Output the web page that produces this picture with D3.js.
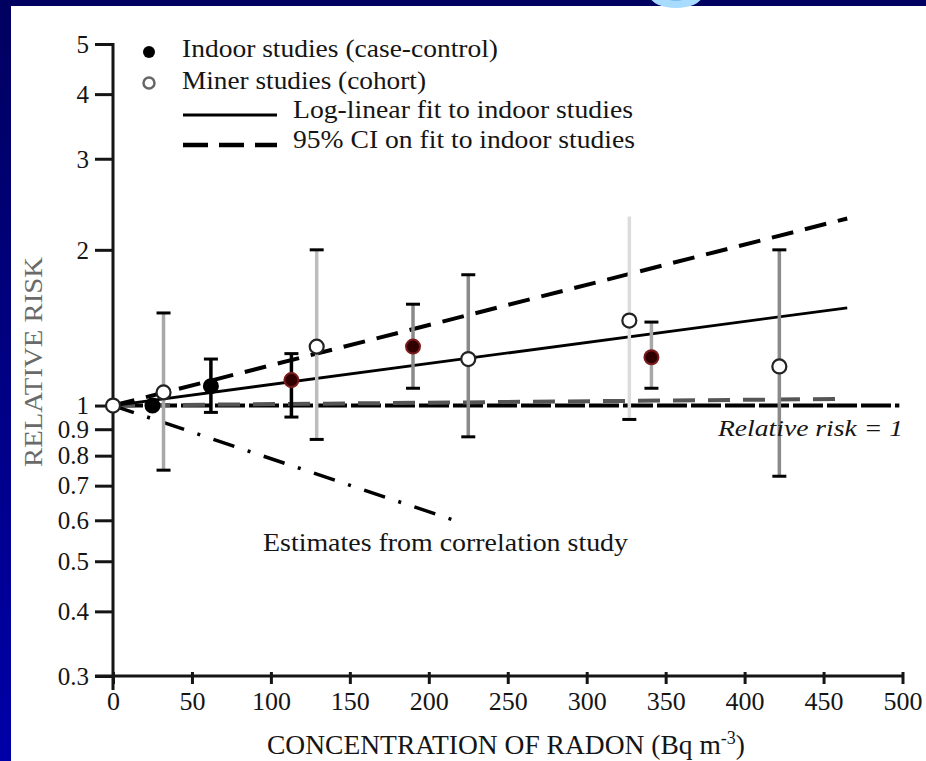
<!DOCTYPE html>
<html>
<head>
<meta charset="utf-8">
<script src="https://cdn.jsdelivr.net/npm/d3@7"></script>
<style>
  html, body { margin: 0; padding: 0; background: #fff; }
  svg { display: block; }
</style>
</head>
<body>
<svg id="chart"></svg>
<script>
// Relative risk of lung cancer vs. radon concentration
//   Values; y is a log axis.

// Indoor (case-control) studies
var indoorConc = [25, 62, 113, 190, 341];
var indoorRR   = [1.00, 1.09, 1.12, 1.30, 1.24];
var indoorLow  = [null, 0.97, 0.95, 1.08, 1.08];
var indoorHigh = [null, 1.23, 1.26, 1.57, 1.45];

// Miner (cohort) studies
var minerConc = [0, 32, 129, 225, 327, 422];
var minerRR   = [1.00, 1.06, 1.30, 1.23, 1.46, 1.19];
var minerLow  = [null, 0.75, 0.86, 0.87, 0.94, 0.73];
var minerHigh = [null, 1.51, 2.00, 1.79, 2.32, 2.00];

// Fitted lines (end points)
var fitConc     = [0, 465];
var fitRR       = [1.00, 1.545];
var ciUpperRR   = [1.00, 2.30];
var ciLowerRR   = [1.00, 1.03];
var corrConc    = [0, 216];
var corrRR      = [1.00, 0.60];
var refConc     = [0, 498];
var refRR       = [1, 1];

// Axis ticks
var xTicks = [0, 50, 100, 150, 200, 250, 300, 350, 400, 450, 500];
var yTicks = [0.3, 0.4, 0.5, 0.6, 0.7, 0.8, 0.9, 1, 2, 3, 4, 5];
var yTickLabels = ["0.3", "0.4", "0.5", "0.6", "0.7", "0.8", "0.9", "1", "2", "3", "4", "5"];

var legendLabels = ["Indoor studies (case-control)", "Miner studies (cohort)",
                    "Log-linear fit to indoor studies", "95% CI on fit to indoor studies"];

var serif = "'Liberation Serif', 'Times New Roman', serif";
var ink = "#151515";

var W = 926, H = 761;
var svg = d3.select("#chart").attr("width", W).attr("height", H);

// ---- slide background (blue frame, white page) ----
var defs = svg.append("defs");
var grad = defs.append("linearGradient").attr("id", "side")
    .attr("x1", 0).attr("y1", 0).attr("x2", 0).attr("y2", 1);
grad.append("stop").attr("offset", "0%").attr("stop-color", "#000060");
grad.append("stop").attr("offset", "100%").attr("stop-color", "#0000a8");

svg.append("rect").attr("width", W).attr("height", H).attr("fill", "#fff");
svg.append("rect").attr("x", 0).attr("y", 0).attr("width", 11).attr("height", H).attr("fill", "url(#side)");
svg.append("rect").attr("x", 0).attr("y", 0).attr("width", W).attr("height", 6).attr("fill", "#000060");
// bit of a title letter peeking in at the top
svg.append("ellipse").attr("cx", 676).attr("cy", -4).attr("rx", 26).attr("ry", 12).attr("fill", "#a8dcff");
svg.append("ellipse").attr("cx", 676).attr("cy", -6).attr("rx", 13).attr("ry", 7).attr("fill", "#7fb8ee");

// ---- scales ----
var x = d3.scaleLinear().domain([0, 500]).range([113, 902.5]);
var y = d3.scaleLog().domain([0.3, 5]).range([676, 44]);

var g = svg.append("g");

// x axis
var xAxis = g.append("g")
    .attr("transform", "translate(0,676)")
    .call(d3.axisBottom(x).tickValues(xTicks).tickSize(8).tickFormat(d3.format("d")));
xAxis.select(".domain").remove();
xAxis.selectAll(".tick line").attr("y1", -4).attr("y2", 8).attr("stroke", ink).attr("stroke-width", 3);
xAxis.selectAll(".tick text")
    .attr("y", 34).attr("dy", null)
    .attr("fill", ink).attr("font-family", serif).attr("font-size", 26);

// y axis
var yAxis = g.append("g")
    .attr("transform", "translate(113,0)")
    .call(d3.axisLeft(y).tickValues(yTicks).tickSize(18).tickPadding(6)
        .tickFormat(function(d, i) { return yTickLabels[i]; }));
yAxis.select(".domain").remove();
yAxis.selectAll(".tick line").attr("stroke", ink).attr("stroke-width", 3);
yAxis.selectAll(".tick text")
    .attr("dy", "0.33em")
    .attr("fill", ink).attr("font-family", serif).attr("font-size", 25);

// axis lines drawn by hand so they can overhang
g.append("line").attr("x1", 95).attr("x2", x(500) + 1).attr("y1", 676).attr("y2", 676)
    .attr("stroke", ink).attr("stroke-width", 3);
g.append("line").attr("x1", 113).attr("x2", 113).attr("y1", y(5) - 1).attr("y2", 690)
    .attr("stroke", ink).attr("stroke-width", 3);

// axis titles
g.append("text")
    .attr("transform", "translate(42,362) rotate(-90)")
    .attr("text-anchor", "middle")
    .attr("font-family", serif).attr("font-size", 25).attr("fill", "#6a6a6a")
    .attr("textLength", 210).attr("lengthAdjust", "spacingAndGlyphs")
    .text("RELATIVE  RISK");

var xt = g.append("text")
    .attr("x", 506).attr("y", 754)
    .attr("text-anchor", "middle")
    .attr("font-family", serif).attr("font-size", 27.5).attr("fill", ink);
xt.append("tspan").text("CONCENTRATION OF RADON (Bq m");
xt.append("tspan").attr("font-size", 18).attr("dy", -10).text("-3");
xt.append("tspan").attr("dy", 10).text(")");

// ---- lines ----
function zip(xs, ys) { return xs.map(function(v, i) { return {c: v, rr: ys[i]}; }); }

var line = d3.line()
    .x(function(d) { return x(d.c); })
    .y(function(d) { return y(d.rr); });

// relative risk = 1 reference
g.append("path").attr("d", line(zip(refConc, refRR)))
    .attr("fill", "none").attr("stroke", "#000").attr("stroke-width", 4)
    .attr("stroke-dasharray", "30,4");

// lower CI (runs just above the reference line)
g.append("path").attr("d", line(zip(fitConc, ciLowerRR)))
    .attr("fill", "none").attr("stroke", "#555").attr("stroke-width", 4)
    .attr("stroke-dasharray", "22,13");

// upper CI
g.append("path").attr("d", line(zip(fitConc, ciUpperRR)))
    .attr("fill", "none").attr("stroke", "#000").attr("stroke-width", 4)
    .attr("stroke-dasharray", "22,12");

// log-linear fit
g.append("path").attr("d", line(zip(fitConc, fitRR)))
    .attr("fill", "none").attr("stroke", "#000").attr("stroke-width", 2.8);

// correlation study estimate
g.append("path").attr("d", line(zip(corrConc, corrRR)))
    .attr("fill", "none").attr("stroke", "#000").attr("stroke-width", 3.5)
    .attr("stroke-dasharray", "22,14,3,14");

// ---- error bars ----
var minerBarColor = [null, "#a8a8a8", "#bdbdbd", "#8a8a8a", "#dcdcdc", "#8a8a8a"];
var indoorBarColor = [null, "#000", "#000", "#8a8a8a", "#a8a8a8"];

function errorBars(cs, lows, highs, colors, topCap) {
    cs.forEach(function(c, i) {
        if (lows[i] == null) return;
        var cx = x(c);
        g.append("line").attr("x1", cx).attr("x2", cx)
            .attr("y1", y(highs[i])).attr("y2", y(lows[i]))
            .attr("stroke", colors[i]).attr("stroke-width", 3.5);
        [lows[i], highs[i]].forEach(function(v, k) {
            if (k == 1 && topCap[i] === false) return;
            g.append("line").attr("x1", cx - 7).attr("x2", cx + 7)
                .attr("y1", y(v)).attr("y2", y(v))
                .attr("stroke", "#000").attr("stroke-width", 3);
        });
    });
}
errorBars(minerConc, minerLow, minerHigh, minerBarColor, [true, true, true, true, false, true]);
errorBars(indoorConc, indoorLow, indoorHigh, indoorBarColor, [true, true, true, true, true]);

// ---- points ----
var indoorFill = ["#000", "#000", "#300000", "#300000", "#300000"];
var indoorRing = ["#000", "#000", "#7a1c1c", "#7a1c1c", "#7a1c1c"];

g.selectAll("circle.indoor")
    .data(zip(indoorConc, indoorRR))
    .enter().append("circle")
    .attr("class", "indoor")
    .attr("cx", function(d) { return x(d.c); })
    .attr("cy", function(d) { return y(d.rr); })
    .attr("r", 7)
    .attr("fill", function(d, i) { return indoorFill[i]; })
    .attr("stroke", function(d, i) { return indoorRing[i]; })
    .attr("stroke-width", 2);

g.selectAll("circle.miner")
    .data(zip(minerConc, minerRR))
    .enter().append("circle")
    .attr("class", "miner")
    .attr("cx", function(d) { return x(d.c); })
    .attr("cy", function(d) { return y(d.rr); })
    .attr("r", 7)
    .attr("fill", "#fff")
    .attr("stroke", "#222")
    .attr("stroke-width", 2.2);

// ---- annotations ----
g.append("text").attr("x", 903).attr("y", 436).attr("text-anchor", "end")
    .attr("font-family", serif).attr("font-style", "italic").attr("font-size", 24).attr("fill", ink)
    .attr("textLength", 185).attr("lengthAdjust", "spacingAndGlyphs")
    .text("Relative risk = 1");

g.append("text").attr("x", 263).attr("y", 551)
    .attr("font-family", serif).attr("font-size", 26).attr("fill", ink)
    .attr("textLength", 365).attr("lengthAdjust", "spacingAndGlyphs")
    .text("Estimates from correlation study");

// ---- legend ----
var lg = g.append("g");
lg.append("circle").attr("cx", 149).attr("cy", 52).attr("r", 6).attr("fill", "#000");
lg.append("circle").attr("cx", 149).attr("cy", 83).attr("r", 5.5)
    .attr("fill", "#fff").attr("stroke", "#666").attr("stroke-width", 2.5);
lg.append("line").attr("x1", 183).attr("x2", 277).attr("y1", 115).attr("y2", 115)
    .attr("stroke", "#000").attr("stroke-width", 3);
lg.append("line").attr("x1", 183).attr("x2", 277).attr("y1", 145).attr("y2", 145)
    .attr("stroke", "#000").attr("stroke-width", 4.5).attr("stroke-dasharray", "25,11");

var legendX = [182, 182, 293, 293];
var legendY = [57, 89, 118, 148];
var legendW = [316, 244, 340, 342];
legendLabels.forEach(function(t, i) {
    lg.append("text").attr("x", legendX[i]).attr("y", legendY[i])
        .attr("font-family", serif).attr("font-size", 26).attr("fill", ink)
        .attr("textLength", legendW[i]).attr("lengthAdjust", "spacingAndGlyphs")
        .text(t);
});
</script>
</body>
</html>
